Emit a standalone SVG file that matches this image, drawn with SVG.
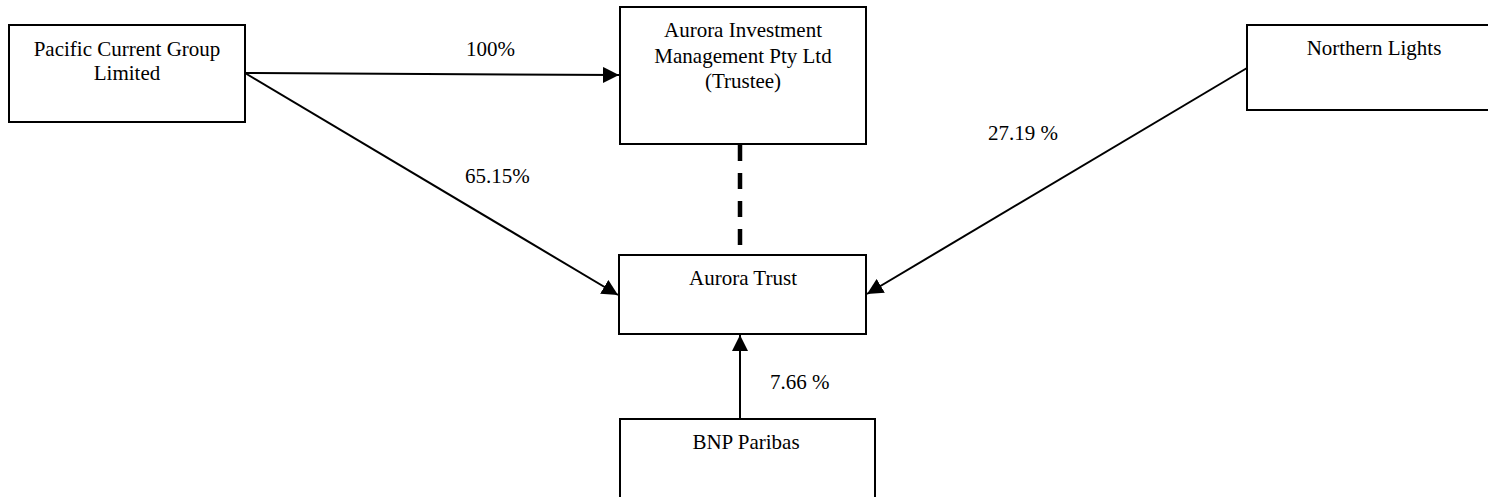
<svg xmlns="http://www.w3.org/2000/svg" width="1488" height="497" viewBox="0 0 1488 497">
<style>
.box{fill:#fff;stroke:#000;stroke-width:2}
text{font-family:"Liberation Serif","Times New Roman",serif;font-size:21px;fill:#000}
.c{text-anchor:middle}
.ln{stroke:#000;stroke-width:2;fill:none}
.dash{stroke:#000;stroke-width:4.5;fill:none;stroke-dasharray:16 12}
</style>
<defs>
<marker id="ah" markerUnits="userSpaceOnUse" markerWidth="16" markerHeight="16" viewBox="0 0 16 16" refX="16" refY="8" orient="auto">
<path d="M0,0 L16,8 L0,16 Z" fill="#000"/>
</marker>
</defs>
<g id="connectors">
<line class="ln" x1="245" y1="73" x2="619" y2="75" marker-end="url(#ah)"/>
<line class="ln" x1="245" y1="73" x2="618" y2="295" marker-end="url(#ah)"/>
<line class="ln" x1="1247" y1="68" x2="867" y2="294" marker-end="url(#ah)"/>
<line class="ln" x1="740" y1="419" x2="740" y2="335" marker-end="url(#ah)"/>
<line class="dash" x1="740" y1="145" x2="740" y2="248"/>
<text x="466" y="56">100%</text>
<text x="465" y="183">65.15%</text>
<text x="988" y="140">27.19 %</text>
<text x="770" y="389">7.66 %</text>
</g>
<g id="pacific">
<rect class="box" x="9" y="25" width="236" height="97"/>
<text class="c" x="127" y="56">Pacific Current Group</text>
<text class="c" x="127" y="80">Limited</text>
</g>
<g id="aurora-investment">
<rect class="box" x="620" y="7" width="246" height="137"/>
<text class="c" x="743" y="37">Aurora Investment</text>
<text class="c" x="743" y="63">Management Pty Ltd</text>
<text class="c" x="743" y="88">(Trustee)</text>
</g>
<g id="northern-lights">
<rect class="box" x="1247" y="25" width="260" height="85"/>
<text class="c" x="1374" y="55">Northern Lights</text>
</g>
<g id="aurora-trust">
<rect class="box" x="619" y="255" width="247" height="79"/>
<text class="c" x="743" y="285">Aurora Trust</text>
</g>
<g id="bnp">
<rect class="box" x="620" y="419" width="255" height="100"/>
<text class="c" x="746" y="449">BNP Paribas</text>
</g>
</svg>
